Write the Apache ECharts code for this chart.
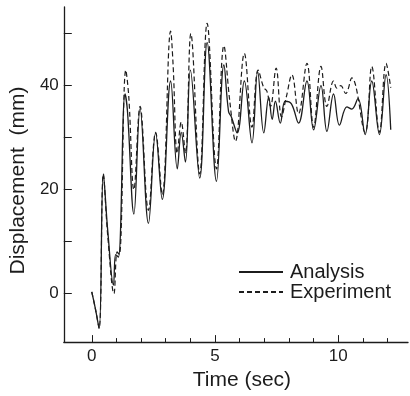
<!DOCTYPE html>
<html><head><meta charset="utf-8">
<script src="https://cdn.jsdelivr.net/npm/echarts@6/dist/echarts.min.js"></script>
<style>html,body{margin:0;padding:0;background:#fff}#c{width:410px;height:396px}</style>
</head><body><div id="c"></div>
<script>
// Analysis (solid)
var analysisTime = [0,0.15,0.3,0.47,0.65,0.88,0.97,1.08,1.35,1.45,1.71,1.96,2.3,2.59,2.86,3.2,3.47,3.63,3.8,4.0,4.38,4.68,5.06,5.36,5.55,5.66,5.9,6.19,6.5,6.73,6.98,7.18,7.32,7.45,7.65,7.85,8.1,8.39,8.73,9.0,9.3,9.54,9.81,10.05,10.35,10.55,10.8,11.09,11.36,11.67,11.94,12.13];
var analysisDisp = [0.3,-3,-6.7,23,12,1.6,7.5,7,38.4,35,15.3,35.6,13.5,30.9,18.1,40.9,24,31,25.3,43,22.2,48.3,21.6,44,35,34,30.9,40.9,29,42.7,30.9,37.8,33.5,37,32.8,37,36.5,32.8,40.9,31.5,40,31.2,38.4,32.4,35.9,35.5,37.5,30.6,40.9,30.6,42.1,31.5];
// Experiment (dashed)
var expTime = [0,0.15,0.3,0.47,0.65,0.9,1.03,1.12,1.38,1.5,1.71,1.96,2.3,2.59,2.86,3.2,3.3,3.47,3.63,3.8,4.02,4.38,4.68,5.06,5.36,5.6,5.83,6.19,6.5,6.75,6.98,7.1,7.25,7.48,7.7,7.9,8.12,8.39,8.73,9.0,9.3,9.54,9.81,9.95,10.1,10.3,10.55,11.09,11.36,11.67,11.94,12.13];
var expDisp = [0.3,-3,-6.7,23,11,0,8,7.5,43,38,20,36,16,31,19,50.5,44,27,33,27,50,23,52,24,47.7,37,29.3,46.2,32,43,39.6,39,36,43.4,34,38,42.1,34.6,44.3,32,43.7,36,40.9,39.5,40,38.5,41.5,31,43.7,31,44.3,39.6];
var xTickValues = [0,1,2,3,4,5,6,7,8,9,10,11,12];
var xLabelValues = [0,5,10];
var yTickValues = [0,10,20,30,40,50];
var yLabelValues = [0,20,40];

function pairs(t, v){ return t.map(function(x,i){ return [x, v[i]]; }); }

var font = 'Liberation Sans, Arial, Helvetica, sans-serif';
var ink = '#1c1c1c';
var chart = echarts.init(document.getElementById('c'));
chart.setOption({
  animation: false,
  backgroundColor: '#fff',
  grid: {left: 63, right: 2, top: 7, bottom: 44},
  legend: {
    orient: 'vertical', left: 238, top: 262, padding: 0, itemWidth: 44, itemHeight: 14, itemGap: 0,
    textStyle: {fontFamily: font, fontSize: 20, color: ink, padding: [0, 0, 0, 2]},
    itemStyle: {color: 'rgba(0,0,0,0)', borderColor: 'rgba(0,0,0,0)', borderWidth: 0},
    data: ['Analysis', 'Experiment']
  },
  xAxis: [{
    type: 'value', min: -1.134, max: 12.83,
    name: 'Time (sec)', nameLocation: 'middle', nameGap: 25,
    nameTextStyle: {fontFamily: font, fontSize: 21, color: ink, padding: [0, 0, 0, 12]},
    axisLine: {onZero: false, lineStyle: {color: ink, width: 1.3}},
    axisTick: {inside: true, length: 4, customValues: xTickValues, lineStyle: {color: ink}},
    axisLabel: {customValues: xLabelValues, margin: 6, fontFamily: font, fontSize: 17, color: ink},
    splitLine: {show: false}
  }, {
    type: 'value', min: -1.134, max: 12.83, position: 'bottom', offset: 0,
    axisLine: {show: false, onZero: false},
    axisTick: {inside: true, length: 7, customValues: xLabelValues, lineStyle: {color: ink}},
    axisLabel: {show: false}, splitLine: {show: false}
  }],
  yAxis: {
    type: 'value', min: -9.35, max: 55.14,
    name: 'Displacement  (mm)', nameLocation: 'middle', nameGap: 28,
    nameTextStyle: {fontFamily: font, fontSize: 21, color: ink, padding: [0, 12, 0, 0]},
    axisLine: {show: true, onZero: false, lineStyle: {color: ink, width: 1.3}},
    axisTick: {show: true, inside: true, length: 8, customValues: yTickValues, lineStyle: {color: ink}},
    axisLabel: {customValues: yLabelValues, margin: 5, fontFamily: font, fontSize: 17, color: ink},
    splitLine: {show: false}
  },
  series: [{
    name: 'Analysis', type: 'line', symbol: 'none', smooth: 0.4,
    lineStyle: {color: ink, width: 1.3}, itemStyle: {color: ink},
    data: pairs(analysisTime, analysisDisp)
  }, {
    name: 'Experiment', type: 'line', symbol: 'none', smooth: 0.4,
    lineStyle: {color: ink, width: 1.2, type: [5, 3]}, itemStyle: {color: ink},
    data: pairs(expTime, expDisp)
  }]
});
</script></body></html>
